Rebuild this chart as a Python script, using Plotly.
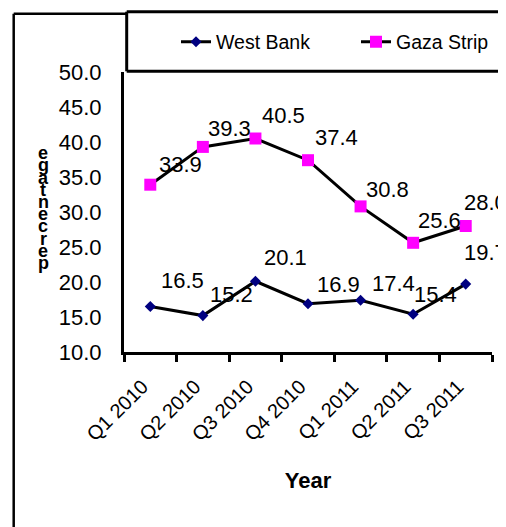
import plotly.graph_objects as go

# ---- data ----
quarters = ["Q1 2010", "Q2 2010", "Q3 2010", "Q4 2010", "Q1 2011", "Q2 2011", "Q3 2011"]
west_bank = [16.5, 15.2, 20.1, 16.9, 17.4, 15.4, 19.7]
gaza_strip = [33.9, 39.3, 40.5, 37.4, 30.8, 25.6, 28.0]
y_ticks = [10, 15, 20, 25, 30, 35, 40, 45, 50]
y_title = "percentage"
x_title = "Year"
series_names = ["West Bank", "Gaza Strip"]

# ---- label placement (style, pixel offsets of value labels from their points) ----
wb_label_dx = [12, 8, 10, 10, 12, 2, -1]
wb_label_dy = [-17, -12, -14, -10, -7, -10, -22]
gz_label_dx = [10, 6, 8, 8, 6, 6, -1]
gz_label_dy = [-11, -9, -14, -13, -7, -13, -14]

# ---- layout geometry (reference pixel coords; page body adds an 8px offset) ----
OFF = 8
W, H = 506, 527
PLOT_L, PLOT_R, PLOT_T, PLOT_B = 124, 492, 72, 352
L, T = PLOT_L - OFF, PLOT_T - OFF
R = W - (PLOT_R - OFF)
B = H - (PLOT_B - OFF)
PW, PH = W - L - R, H - T - B
FONT = "Liberation Sans, Arial, sans-serif"


def px_x(px):
    return (px - OFF - L) / PW


def px_y(py):
    return (H - B - (py - OFF)) / PH


fig = go.Figure()
fig.add_trace(go.Scatter(
    x=quarters, y=west_bank, name=series_names[0], mode="lines+markers",
    line=dict(color="black", width=3),
    marker=dict(symbol="diamond", size=8.5, color="#000080", line=dict(width=0)),
    cliponaxis=False, legend="legend",
))
fig.add_trace(go.Scatter(
    x=quarters, y=gaza_strip, name=series_names[1], mode="lines+markers",
    line=dict(color="black", width=3),
    marker=dict(symbol="square", size=12, color="#FF00FF", line=dict(width=0)),
    cliponaxis=False, legend="legend2",
))

annotations = []
for series, dxs, dys in ((west_bank, wb_label_dx, wb_label_dy),
                         (gaza_strip, gz_label_dx, gz_label_dy)):
    for q, v, dx, dy in zip(quarters, series, dxs, dys):
        annotations.append(dict(
            x=q, y=v, xref="x", yref="y", text=f"{v:.1f}", showarrow=False,
            xanchor="left", yanchor="bottom", xshift=dx - 3, yshift=-dy - 5,
            font=dict(family=FONT, size=22, color="black"),
        ))

# stacked y-axis title letters (reads bottom to top)
for i, ch in enumerate(y_title):
    annotations.append(dict(
        x=px_x(43), y=px_y(263 - 12.2 * i), xref="paper", yref="paper",
        text=ch, showarrow=False, xanchor="center", yanchor="middle",
        font=dict(family=FONT, size=18, color="black", weight="bold"),
    ))

frame = dict(color="black", width=3)
shapes = [
    # legend box (open on the right, running off the chart edge)
    dict(type="line", xref="paper", yref="paper",
         x0=px_x(126.7), x1=px_x(540), y0=px_y(11.7), y1=px_y(11.7), line=frame),
    dict(type="line", xref="paper", yref="paper",
         x0=px_x(126.7), x1=px_x(540), y0=px_y(71.3), y1=px_y(71.3), line=frame),
    dict(type="line", xref="paper", yref="paper",
         x0=px_x(126.7), x1=px_x(126.7), y0=px_y(11.7), y1=px_y(71.3), line=frame),
    # outer chart frame (partially visible)
    dict(type="line", xref="paper", yref="paper",
         x0=px_x(13.7), x1=px_x(126.7), y0=px_y(13.7), y1=px_y(13.7),
         line=dict(color="black", width=2.5)),
    dict(type="line", xref="paper", yref="paper",
         x0=px_x(13.7), x1=px_x(13.7), y0=px_y(13.7), y1=px_y(560),
         line=dict(color="black", width=2.5)),
]

legend_style = dict(
    orientation="h", xanchor="left", yanchor="middle", y=px_y(42),
    font=dict(family=FONT, size=19.5, color="black"),
    bgcolor="rgba(0,0,0,0)", borderwidth=0, itemclick=False, itemdoubleclick=False,
)

fig.update_layout(
    width=W, height=H,
    margin=dict(l=L, r=R, t=T, b=B, pad=0, autoexpand=False),
    paper_bgcolor="white", plot_bgcolor="white",
    font=dict(family=FONT, color="black"),
    showlegend=True,
    legend=dict(x=px_x(176), **legend_style),
    legend2=dict(x=px_x(356), **legend_style),
    xaxis=dict(
        type="category", range=[-0.5, 6.5], tickson="boundaries",
        showline=True, linecolor="black", linewidth=3,
        ticks="outside", ticklen=7, tickwidth=2.5, tickcolor="black",
        tickangle=-45, tickfont=dict(family=FONT, size=20, color="black"),
        ticklabelstandoff=12, ticklabelshift=-8,
        showgrid=False, zeroline=False,
        title=dict(text=f"<b>{x_title}</b>", font=dict(family=FONT, size=22, color="black"), standoff=29),
    ),
    yaxis=dict(
        range=[10, 50], tickvals=y_ticks, tickformat=".1f",
        showline=True, linecolor="black", linewidth=3,
        ticks="", showgrid=False, zeroline=False,
        tickfont=dict(family=FONT, size=22, color="black"),
        ticklabelstandoff=15,
    ),
    annotations=annotations,
    shapes=shapes,
)

fig.write_html("out.html")
